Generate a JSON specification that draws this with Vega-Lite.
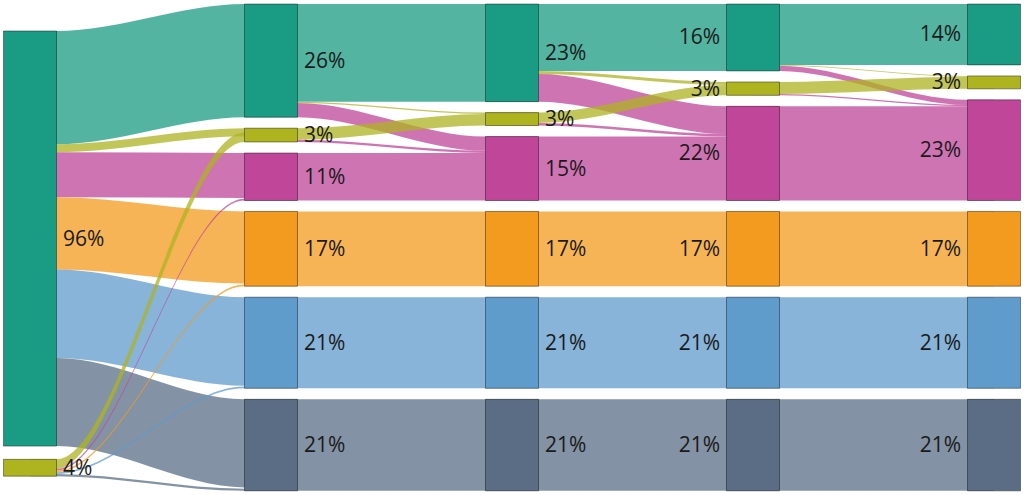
{
  "$schema": "https://vega.github.io/schema/vega-lite/v6.json",
  "width": 1024,
  "height": 495,
  "autosize": {"type": "fit", "contains": "padding"},
  "padding": 0,
  "background": "white",
  "config": {"view": {"stroke": null}},
  "datasets": {
    "links": [
      {"id": "L01", "cat": "A", "x": 0, "top": 6.24, "bottom": 32.44},
      {"id": "L01", "cat": "A", "x": 0.11, "top": 6.24, "bottom": 32.44},
      {"id": "L01", "cat": "A", "x": 0.89, "top": 0, "bottom": 26.2},
      {"id": "L01", "cat": "A", "x": 1, "top": 0, "bottom": 26.2},
      {"id": "L02", "cat": "B", "x": 0, "top": 32.44, "bottom": 34.34},
      {"id": "L02", "cat": "B", "x": 0.11, "top": 32.44, "bottom": 34.34},
      {"id": "L02", "cat": "B", "x": 0.89, "top": 28.74, "bottom": 30.64},
      {"id": "L02", "cat": "B", "x": 1, "top": 28.74, "bottom": 30.64},
      {"id": "L03", "cat": "C", "x": 0, "top": 34.34, "bottom": 44.74},
      {"id": "L03", "cat": "C", "x": 0.11, "top": 34.34, "bottom": 44.74},
      {"id": "L03", "cat": "C", "x": 0.89, "top": 34.48, "bottom": 44.88},
      {"id": "L03", "cat": "C", "x": 1, "top": 34.48, "bottom": 44.88},
      {"id": "L04", "cat": "D", "x": 0, "top": 44.74, "bottom": 61.44},
      {"id": "L04", "cat": "D", "x": 0.11, "top": 44.74, "bottom": 61.44},
      {"id": "L04", "cat": "D", "x": 0.89, "top": 48.02, "bottom": 64.72},
      {"id": "L04", "cat": "D", "x": 1, "top": 48.02, "bottom": 64.72},
      {"id": "L05", "cat": "E", "x": 0, "top": 61.44, "bottom": 81.94},
      {"id": "L05", "cat": "E", "x": 0.11, "top": 61.44, "bottom": 81.94},
      {"id": "L05", "cat": "E", "x": 0.89, "top": 67.86, "bottom": 88.36},
      {"id": "L05", "cat": "E", "x": 1, "top": 67.86, "bottom": 88.36},
      {"id": "L06", "cat": "F", "x": 0, "top": 81.94, "bottom": 102.34},
      {"id": "L06", "cat": "F", "x": 0.11, "top": 81.94, "bottom": 102.34},
      {"id": "L06", "cat": "F", "x": 0.89, "top": 91.5, "bottom": 111.9},
      {"id": "L06", "cat": "F", "x": 1, "top": 91.5, "bottom": 111.9},
      {"id": "L07", "cat": "B", "x": 0, "top": 105.4, "bottom": 107.6},
      {"id": "L07", "cat": "B", "x": 0.11, "top": 105.4, "bottom": 107.6},
      {"id": "L07", "cat": "B", "x": 0.89, "top": 29.74, "bottom": 31.94},
      {"id": "L07", "cat": "B", "x": 1, "top": 29.74, "bottom": 31.94},
      {"id": "L08", "cat": "C", "x": 0, "top": 107.6, "bottom": 108.0},
      {"id": "L08", "cat": "C", "x": 0.11, "top": 107.6, "bottom": 108.0},
      {"id": "L08", "cat": "C", "x": 0.89, "top": 45.08, "bottom": 45.48},
      {"id": "L08", "cat": "C", "x": 1, "top": 45.08, "bottom": 45.48},
      {"id": "L09", "cat": "D", "x": 0, "top": 108.0, "bottom": 108.4},
      {"id": "L09", "cat": "D", "x": 0.11, "top": 108.0, "bottom": 108.4},
      {"id": "L09", "cat": "D", "x": 0.89, "top": 64.92, "bottom": 65.32},
      {"id": "L09", "cat": "D", "x": 1, "top": 64.92, "bottom": 65.32},
      {"id": "L10", "cat": "E", "x": 0, "top": 108.4, "bottom": 108.8},
      {"id": "L10", "cat": "E", "x": 0.11, "top": 108.4, "bottom": 108.8},
      {"id": "L10", "cat": "E", "x": 0.89, "top": 88.56, "bottom": 88.96},
      {"id": "L10", "cat": "E", "x": 1, "top": 88.56, "bottom": 88.96},
      {"id": "L11", "cat": "F", "x": 0, "top": 108.8, "bottom": 109.3},
      {"id": "L11", "cat": "F", "x": 0.11, "top": 108.8, "bottom": 109.3},
      {"id": "L11", "cat": "F", "x": 0.89, "top": 112.2, "bottom": 112.7},
      {"id": "L11", "cat": "F", "x": 1, "top": 112.2, "bottom": 112.7},

      {"id": "L12", "cat": "A", "x": 1, "top": 0, "bottom": 22.6},
      {"id": "L12", "cat": "A", "x": 2, "top": 0, "bottom": 22.6},
      {"id": "L13", "cat": "B", "x": 1, "top": 22.6, "bottom": 22.9},
      {"id": "L13", "cat": "B", "x": 1.11, "top": 22.6, "bottom": 22.9},
      {"id": "L13", "cat": "B", "x": 1.89, "top": 25.14, "bottom": 25.44},
      {"id": "L13", "cat": "B", "x": 2, "top": 25.14, "bottom": 25.44},
      {"id": "L14", "cat": "C", "x": 1, "top": 22.9, "bottom": 26.2},
      {"id": "L14", "cat": "C", "x": 1.11, "top": 22.9, "bottom": 26.2},
      {"id": "L14", "cat": "C", "x": 1.89, "top": 30.68, "bottom": 33.98},
      {"id": "L14", "cat": "C", "x": 2, "top": 30.68, "bottom": 33.98},
      {"id": "L15", "cat": "B", "x": 1, "top": 28.74, "bottom": 31.44},
      {"id": "L15", "cat": "B", "x": 1.11, "top": 28.74, "bottom": 31.44},
      {"id": "L15", "cat": "B", "x": 1.89, "top": 25.44, "bottom": 28.14},
      {"id": "L15", "cat": "B", "x": 2, "top": 25.44, "bottom": 28.14},
      {"id": "L16", "cat": "C", "x": 1, "top": 31.44, "bottom": 31.94},
      {"id": "L16", "cat": "C", "x": 1.11, "top": 31.44, "bottom": 31.94},
      {"id": "L16", "cat": "C", "x": 1.89, "top": 33.98, "bottom": 34.48},
      {"id": "L16", "cat": "C", "x": 2, "top": 33.98, "bottom": 34.48},
      {"id": "L17", "cat": "C", "x": 1, "top": 34.48, "bottom": 45.48},
      {"id": "L17", "cat": "C", "x": 2, "top": 34.48, "bottom": 45.48},
      {"id": "L18", "cat": "D", "x": 1, "top": 48.02, "bottom": 65.32},
      {"id": "L18", "cat": "D", "x": 2, "top": 48.02, "bottom": 65.32},
      {"id": "L19", "cat": "E", "x": 1, "top": 67.86, "bottom": 88.96},
      {"id": "L19", "cat": "E", "x": 2, "top": 67.86, "bottom": 88.96},
      {"id": "L20", "cat": "F", "x": 1, "top": 91.5, "bottom": 112.7},
      {"id": "L20", "cat": "F", "x": 2, "top": 91.5, "bottom": 112.7},

      {"id": "L21", "cat": "A", "x": 2, "top": 0, "bottom": 15.5},
      {"id": "L21", "cat": "A", "x": 3, "top": 0, "bottom": 15.5},
      {"id": "L22", "cat": "B", "x": 2, "top": 15.5, "bottom": 16.2},
      {"id": "L22", "cat": "B", "x": 2.11, "top": 15.5, "bottom": 16.2},
      {"id": "L22", "cat": "B", "x": 2.89, "top": 18.04, "bottom": 18.74},
      {"id": "L22", "cat": "B", "x": 3, "top": 18.04, "bottom": 18.74},
      {"id": "L23", "cat": "C", "x": 2, "top": 16.2, "bottom": 22.6},
      {"id": "L23", "cat": "C", "x": 2.11, "top": 16.2, "bottom": 22.6},
      {"id": "L23", "cat": "C", "x": 2.89, "top": 23.68, "bottom": 30.08},
      {"id": "L23", "cat": "C", "x": 3, "top": 23.68, "bottom": 30.08},
      {"id": "L24", "cat": "B", "x": 2, "top": 25.14, "bottom": 27.54},
      {"id": "L24", "cat": "B", "x": 2.11, "top": 25.14, "bottom": 27.54},
      {"id": "L24", "cat": "B", "x": 2.89, "top": 18.74, "bottom": 21.14},
      {"id": "L24", "cat": "B", "x": 3, "top": 18.74, "bottom": 21.14},
      {"id": "L25", "cat": "C", "x": 2, "top": 27.54, "bottom": 28.14},
      {"id": "L25", "cat": "C", "x": 2.11, "top": 27.54, "bottom": 28.14},
      {"id": "L25", "cat": "C", "x": 2.89, "top": 30.08, "bottom": 30.68},
      {"id": "L25", "cat": "C", "x": 3, "top": 30.08, "bottom": 30.68},
      {"id": "L26", "cat": "C", "x": 2, "top": 30.68, "bottom": 45.48},
      {"id": "L26", "cat": "C", "x": 3, "top": 30.68, "bottom": 45.48},
      {"id": "L27", "cat": "D", "x": 2, "top": 48.02, "bottom": 65.32},
      {"id": "L27", "cat": "D", "x": 3, "top": 48.02, "bottom": 65.32},
      {"id": "L28", "cat": "E", "x": 2, "top": 67.86, "bottom": 88.96},
      {"id": "L28", "cat": "E", "x": 3, "top": 67.86, "bottom": 88.96},
      {"id": "L29", "cat": "F", "x": 2, "top": 91.5, "bottom": 112.7},
      {"id": "L29", "cat": "F", "x": 3, "top": 91.5, "bottom": 112.7},

      {"id": "L30", "cat": "A", "x": 3, "top": 0, "bottom": 14.1},
      {"id": "L30", "cat": "A", "x": 4, "top": 0, "bottom": 14.1},
      {"id": "L31", "cat": "B", "x": 3, "top": 14.1, "bottom": 14.3},
      {"id": "L31", "cat": "B", "x": 3.11, "top": 14.1, "bottom": 14.3},
      {"id": "L31", "cat": "B", "x": 3.89, "top": 16.64, "bottom": 16.84},
      {"id": "L31", "cat": "B", "x": 4, "top": 16.64, "bottom": 16.84},
      {"id": "L32", "cat": "C", "x": 3, "top": 14.3, "bottom": 15.5},
      {"id": "L32", "cat": "C", "x": 3.11, "top": 14.3, "bottom": 15.5},
      {"id": "L32", "cat": "C", "x": 3.89, "top": 22.18, "bottom": 23.38},
      {"id": "L32", "cat": "C", "x": 4, "top": 22.18, "bottom": 23.38},
      {"id": "L33", "cat": "B", "x": 3, "top": 18.04, "bottom": 20.84},
      {"id": "L33", "cat": "B", "x": 3.11, "top": 18.04, "bottom": 20.84},
      {"id": "L33", "cat": "B", "x": 3.89, "top": 16.84, "bottom": 19.64},
      {"id": "L33", "cat": "B", "x": 4, "top": 16.84, "bottom": 19.64},
      {"id": "L34", "cat": "C", "x": 3, "top": 20.84, "bottom": 21.14},
      {"id": "L34", "cat": "C", "x": 3.11, "top": 20.84, "bottom": 21.14},
      {"id": "L34", "cat": "C", "x": 3.89, "top": 23.38, "bottom": 23.68},
      {"id": "L34", "cat": "C", "x": 4, "top": 23.38, "bottom": 23.68},
      {"id": "L35", "cat": "C", "x": 3, "top": 23.68, "bottom": 45.48},
      {"id": "L35", "cat": "C", "x": 4, "top": 23.68, "bottom": 45.48},
      {"id": "L36", "cat": "D", "x": 3, "top": 48.02, "bottom": 65.32},
      {"id": "L36", "cat": "D", "x": 4, "top": 48.02, "bottom": 65.32},
      {"id": "L37", "cat": "E", "x": 3, "top": 67.86, "bottom": 88.96},
      {"id": "L37", "cat": "E", "x": 4, "top": 67.86, "bottom": 88.96},
      {"id": "L38", "cat": "F", "x": 3, "top": 91.5, "bottom": 112.7},
      {"id": "L38", "cat": "F", "x": 4, "top": 91.5, "bottom": 112.7}
    ],
    "nodes": [
      {"stage": 0, "cat": "A", "top": 6.24, "bottom": 102.34, "label": "96%"},
      {"stage": 0, "cat": "B", "top": 105.4, "bottom": 109.3, "label": "4%"},
      {"stage": 1, "cat": "A", "top": 0, "bottom": 26.2, "label": "26%"},
      {"stage": 1, "cat": "B", "top": 28.74, "bottom": 31.94, "label": "3%"},
      {"stage": 1, "cat": "C", "top": 34.48, "bottom": 45.48, "label": "11%"},
      {"stage": 1, "cat": "D", "top": 48.02, "bottom": 65.32, "label": "17%"},
      {"stage": 1, "cat": "E", "top": 67.86, "bottom": 88.96, "label": "21%"},
      {"stage": 1, "cat": "F", "top": 91.5, "bottom": 112.7, "label": "21%"},
      {"stage": 2, "cat": "A", "top": 0, "bottom": 22.6, "label": "23%"},
      {"stage": 2, "cat": "B", "top": 25.14, "bottom": 28.14, "label": "3%"},
      {"stage": 2, "cat": "C", "top": 30.68, "bottom": 45.48, "label": "15%"},
      {"stage": 2, "cat": "D", "top": 48.02, "bottom": 65.32, "label": "17%"},
      {"stage": 2, "cat": "E", "top": 67.86, "bottom": 88.96, "label": "21%"},
      {"stage": 2, "cat": "F", "top": 91.5, "bottom": 112.7, "label": "21%"},
      {"stage": 3, "cat": "A", "top": 0, "bottom": 15.5, "label": "16%"},
      {"stage": 3, "cat": "B", "top": 18.04, "bottom": 21.14, "label": "3%"},
      {"stage": 3, "cat": "C", "top": 23.68, "bottom": 45.48, "label": "22%"},
      {"stage": 3, "cat": "D", "top": 48.02, "bottom": 65.32, "label": "17%"},
      {"stage": 3, "cat": "E", "top": 67.86, "bottom": 88.96, "label": "21%"},
      {"stage": 3, "cat": "F", "top": 91.5, "bottom": 112.7, "label": "21%"},
      {"stage": 4, "cat": "A", "top": 0, "bottom": 14.1, "label": "14%"},
      {"stage": 4, "cat": "B", "top": 16.64, "bottom": 19.64, "label": "3%"},
      {"stage": 4, "cat": "C", "top": 22.18, "bottom": 45.48, "label": "23%"},
      {"stage": 4, "cat": "D", "top": 48.02, "bottom": 65.32, "label": "17%"},
      {"stage": 4, "cat": "E", "top": 67.86, "bottom": 88.96, "label": "21%"},
      {"stage": 4, "cat": "F", "top": 91.5, "bottom": 112.7, "label": "21%"}
    ]
  },
  "layer": [
    {
      "data": {"name": "links"},
      "mark": {"type": "area", "interpolate": "monotone", "orient": "vertical", "fillOpacity": 0.75, "strokeWidth": 0},
      "encoding": {
        "x": {"field": "x", "type": "quantitative", "scale": {"domain": [-0.12448, 4.12448], "nice": false, "zero": false}, "axis": null},
        "y": {"field": "top", "type": "quantitative", "scale": {"domain": [-0.926, 113.657], "reverse": true, "nice": false, "zero": false}, "axis": null},
        "y2": {"field": "bottom"},
        "color": {"field": "cat", "type": "nominal", "scale": {"domain": ["A", "B", "C", "D", "E", "F"], "range": ["#1A9B83", "#AEB320", "#BF4699", "#F39B1E", "#5F9BCB", "#5A6D85"]}, "legend": null},
        "detail": {"field": "id", "type": "nominal"}
      }
    },
    {
      "data": {"name": "nodes"},
      "mark": {"type": "rect", "xOffset": -26.5, "x2Offset": 26.5, "stroke": "#000000", "strokeOpacity": 0.4, "strokeWidth": 1},
      "encoding": {
        "x": {"field": "stage", "type": "quantitative", "scale": {"domain": [-0.12448, 4.12448], "nice": false, "zero": false}, "axis": null},
        "x2": {"field": "stage"},
        "y": {"field": "top", "type": "quantitative", "scale": {"domain": [-0.926, 113.657], "reverse": true, "nice": false, "zero": false}, "axis": null},
        "y2": {"field": "bottom"},
        "color": {"field": "cat", "type": "nominal", "scale": {"domain": ["A", "B", "C", "D", "E", "F"], "range": ["#1A9B83", "#AEB320", "#BF4699", "#F39B1E", "#5F9BCB", "#5A6D85"]}, "legend": null}
      }
    },
    {
      "data": {"name": "nodes"},
      "transform": [
        {"filter": "datum.stage <= 2"},
        {"fold": ["top", "bottom"], "as": ["edge", "pos"]}
      ],
      "mark": {"type": "text", "align": "left", "baseline": "middle", "dx": 33, "dy": 1, "font": "Open Sans", "fontSize": 21, "color": "#1a1a1a"},
      "encoding": {
        "x": {"field": "stage", "type": "quantitative", "scale": {"domain": [-0.12448, 4.12448], "nice": false, "zero": false}, "axis": null},
        "y": {"aggregate": "mean", "field": "pos", "type": "quantitative", "scale": {"domain": [-0.926, 113.657], "reverse": true, "nice": false, "zero": false}, "axis": null},
        "text": {"field": "label", "type": "nominal"},
        "detail": {"field": "cat", "type": "nominal"}
      }
    },
    {
      "data": {"name": "nodes"},
      "transform": [
        {"filter": "datum.stage >= 3"},
        {"fold": ["top", "bottom"], "as": ["edge", "pos"]}
      ],
      "mark": {"type": "text", "align": "right", "baseline": "middle", "dx": -33, "dy": 1, "font": "Open Sans", "fontSize": 21, "color": "#1a1a1a"},
      "encoding": {
        "x": {"field": "stage", "type": "quantitative", "scale": {"domain": [-0.12448, 4.12448], "nice": false, "zero": false}, "axis": null},
        "y": {"aggregate": "mean", "field": "pos", "type": "quantitative", "scale": {"domain": [-0.926, 113.657], "reverse": true, "nice": false, "zero": false}, "axis": null},
        "text": {"field": "label", "type": "nominal"},
        "detail": {"field": "cat", "type": "nominal"}
      }
    }
  ]
}
